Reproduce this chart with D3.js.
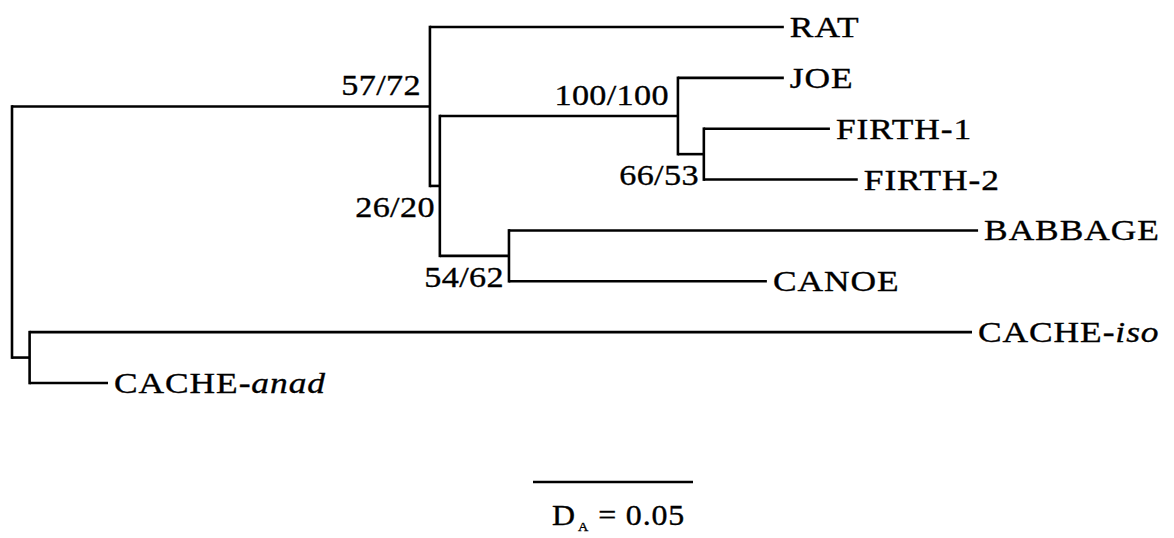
<!DOCTYPE html>
<html>
<head>
<meta charset="utf-8">
<script src="https://cdn.jsdelivr.net/npm/d3@7"></script>
<style>
  html, body { margin: 0; padding: 0; background: #fff; }
  svg { display: block; }
  text { font-family: "Liberation Serif", "Times New Roman", serif; fill: #000; stroke: #000; stroke-width: 0.35px; }
</style>
</head>
<body>
<svg id="tree" width="1174" height="538"></svg>
<script>
// Tree topology: every node, its parent and the length of the branch leading to it
const nodeIds       = ["root", "A", "RAT", "B", "C", "JOE", "E", "FIRTH-1", "FIRTH-2", "D", "BABBAGE", "CANOE", "F", "CACHE-iso", "CACHE-anad"];
const parentIds     = ["", "root", "A", "A", "B", "C", "C", "E", "E", "B", "D", "D", "root", "F", "F"];
const branchLengths = [0, 0.1306, 0.1106, 0.0031, 0.0744, 0.0331, 0.0081, 0.0394, 0.0481, 0.0216, 0.1466, 0.0806, 0.0055, 0.2945, 0.0245];
// Bootstrap support (two methods) on internal nodes
const supportLabels = ["", "57/72", "", "26/20", "100/100", "", "66/53", "", "", "54/62", "", "", "", "", ""];
// Scale bar
const scaleBarValue = 0.05;
const scaleBarLabel = "0.05";

const svg = d3.select("#tree");

const rows = nodeIds.map((id, i) => ({ id, parent: parentIds[i] || null, len: branchLengths[i], support: supportLabels[i] }));
const root = d3.stratify().id(d => d.id).parentId(d => d.parent)(rows);

// cumulative distance from the root
root.eachBefore(n => { n.dist = n.parent ? n.parent.dist + n.data.len : 0; });

// 0.05 units of genetic distance span 160 px
const x = d3.scaleLinear().domain([0, scaleBarValue]).range([12, 172]);

const leaves = root.leaves();
const y = d3.scalePoint().domain(leaves.map(d => d.id)).range([27, 383]);
root.eachAfter(n => {
  if (!n.children) n.yy = y(n.id);
  else n.yy = (n.children[0].yy + n.children[n.children.length - 1].yy) / 2;
});

const g = svg.append("g");
const SW = 2.6;
const stretch = 1.18;   // the typeface is set slightly wide

// elbow branches: horizontal run to each child ...
root.descendants().filter(n => n.parent).forEach(n => {
  g.append("path")
    .attr("d", `M${x(n.parent.dist)},${n.yy}H${x(n.dist)}`)
    .attr("stroke", "#000").attr("stroke-width", SW).attr("fill", "none");
});
// ... and one vertical joining the children of each internal node
root.descendants().filter(n => n.children).forEach(n => {
  const ys = n.children.map(c => c.yy);
  g.append("path")
    .attr("d", `M${x(n.dist)},${d3.min(ys) - SW / 2}V${d3.max(ys) + SW / 2}`)
    .attr("stroke", "#000").attr("stroke-width", SW).attr("fill", "none");
});

// taxon labels
const leafText = g.selectAll("text.leaf").data(leaves).join("text")
  .attr("class", "leaf")
  .attr("transform", d => `translate(${x(d.dist) + 6},${d.yy + 10}) scale(${stretch},1)`)
  .attr("font-size", 30)
  .attr("letter-spacing", 0.8);
leafText.each(function(d) {
  const t = d3.select(this);
  const m = d.id.match(/^(CACHE-)(.+)$/);
  if (m) {
    t.append("tspan").text(m[1]);
    t.append("tspan").attr("font-style", "italic").text(m[2]);
  } else {
    t.text(d.id);
  }
});

// support values beside internal nodes: above the stem, or tucked below the fork
const belowFork = new Set(["26/20", "66/53", "54/62"]);
g.selectAll("text.support")
  .data(root.descendants().filter(n => n.data.support))
  .join("text")
  .attr("class", "support")
  .attr("text-anchor", "end")
  .attr("transform", d => {
    const below = belowFork.has(d.data.support);
    return `translate(${x(d.dist) - (below ? 5 : 9)},${d.yy + (below ? 31 : -11)}) scale(1.14,1)`;
  })
  .attr("font-size", 30)
  .attr("letter-spacing", 0.3)
  .text(d => d.data.support);

// scale bar
const sbX = 533, sbY = 482;
g.append("line")
  .attr("x1", sbX).attr("x2", sbX + (x(scaleBarValue) - x(0)))
  .attr("y1", sbY).attr("y2", sbY)
  .attr("stroke", "#000").attr("stroke-width", SW);
const sb = g.append("text")
  .attr("transform", `translate(${sbX + 19},${sbY + 43}) scale(1.1,1)`)
  .attr("font-size", 29).attr("letter-spacing", 0.8);
sb.append("tspan").text("D");
sb.append("tspan").attr("font-size", 13).attr("dy", 6).attr("dx", 2).text("A");
sb.append("tspan").attr("dy", -6).text(" = " + scaleBarLabel);
</script>
</body>
</html>
